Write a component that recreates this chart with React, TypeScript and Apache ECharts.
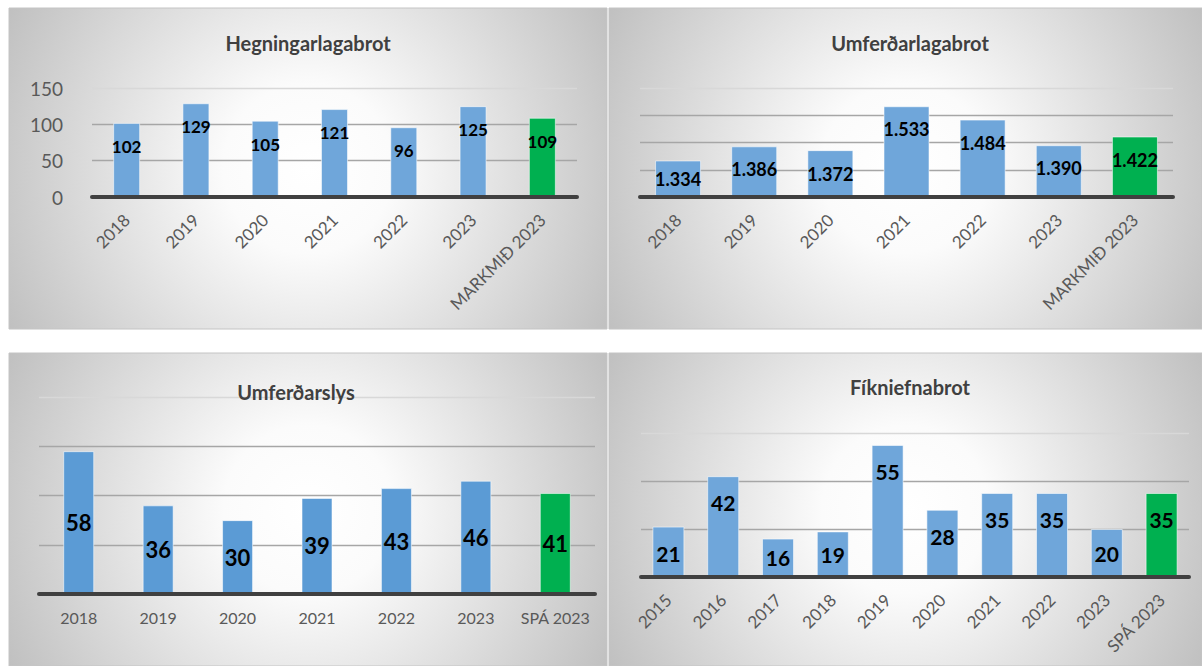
import React, { useEffect, useRef } from "react";
import * as echarts from "echarts";

// ---- Data ----
const crimeTitle = "Hegningarlagabrot";
const crimeCategories = ["2018", "2019", "2020", "2021", "2022", "2023", "MARKMIÐ 2023"];
const crimeValues = [102, 129, 105, 121, 96, 125, 109];
const crimeTicks = [0, 50, 100, 150];

const trafficTitle = "Umferðarlagabrot";
const trafficCategories = ["2018", "2019", "2020", "2021", "2022", "2023", "MARKMIÐ 2023"];
const trafficValues = [1334, 1386, 1372, 1533, 1484, 1390, 1422];

const accidentTitle = "Umferðarslys";
const accidentCategories = ["2018", "2019", "2020", "2021", "2022", "2023", "SPÁ 2023"];
const accidentValues = [58, 36, 30, 39, 43, 46, 41];

const drugTitle = "Fíkniefnabrot";
const drugCategories = ["2015", "2016", "2017", "2018", "2019", "2020", "2021", "2022", "2023", "SPÁ 2023"];
const drugValues = [21, 42, 16, 19, 55, 28, 35, 35, 20, 35];

const FONT = "Lato, 'Open Sans', sans-serif";
const GREEN = "#00b050";

function dotThousands(v: number): string {
  return String(v).replace(/\B(?=(\d{3})+(?!\d))/g, ".");
}

type Panel = {
  title: string;
  titleX: number;
  titleY: number;
  rect: { x: number; y: number; w: number; h: number };
  grid: { left: number; top: number; width: number; height: number };
  categories: string[];
  values: number[];
  min: number;
  max: number;
  interval: number;
  showYLabels: boolean;
  barWidth: number;
  color: string;
  labelSize: number;
  labelMode: "top" | "center";
  labelDistance: number;
  rotate: number;
  xFont: number;
  xMargin: number;
  thousands: boolean;
};

const panels: Panel[] = [
  {
    title: crimeTitle, titleX: 308, titleY: 43,
    rect: { x: 9, y: 8, w: 598, h: 321 },
    grid: { left: 92, top: 88, width: 485, height: 109 },
    categories: crimeCategories, values: crimeValues,
    min: crimeTicks[0], max: crimeTicks[crimeTicks.length - 1], interval: crimeTicks[1] - crimeTicks[0],
    showYLabels: true, barWidth: 27, color: "#6fa6da",
    labelSize: 17, labelMode: "top", labelDistance: 15,
    rotate: 45, xFont: 17, xMargin: 20, thousands: false,
  },
  {
    title: trafficTitle, titleX: 910, titleY: 43,
    rect: { x: 609, y: 8, w: 593, h: 321 },
    grid: { left: 640, top: 88, width: 533, height: 109 },
    categories: trafficCategories, values: trafficValues,
    min: 1200, max: 1600, interval: 100,
    showYLabels: false, barWidth: 46, color: "#6fa6da",
    labelSize: 18, labelMode: "top", labelDistance: 14,
    rotate: 45, xFont: 17, xMargin: 20, thousands: true,
  },
  {
    title: accidentTitle, titleX: 296, titleY: 392,
    rect: { x: 9, y: 353, w: 598, h: 313 },
    grid: { left: 39, top: 397, width: 556, height: 197 },
    categories: accidentCategories, values: accidentValues,
    min: 0, max: 80, interval: 20,
    showYLabels: false, barWidth: 31, color: "#5b9bd5",
    labelSize: 22, labelMode: "center", labelDistance: 0,
    rotate: 0, xFont: 16, xMargin: 15, thousands: false,
  },
  {
    title: drugTitle, titleX: 910, titleY: 387,
    rect: { x: 609, y: 353, w: 593, h: 313 },
    grid: { left: 641, top: 433, width: 548, height: 144 },
    categories: drugCategories, values: drugValues,
    min: 0, max: 60, interval: 20,
    showYLabels: false, barWidth: 32, color: "#6fa6da",
    labelSize: 21, labelMode: "top", labelDistance: 16,
    rotate: 45, xFont: 17, xMargin: 20, thousands: false,
  },
];

function buildOption() {
  const grids: any[] = [];
  const xAxes: any[] = [];
  const yAxes: any[] = [];
  const series: any[] = [];
  const graphics: any[] = [];

  panels.forEach((p, i) => {
    const cx = p.rect.x + p.rect.w / 2;
    const cy = p.rect.y + p.rect.h / 2;
    const r = Math.sqrt((p.rect.w / 2) ** 2 + (p.rect.h / 2) ** 2);
    graphics.push({
      type: "rect",
      z: -10,
      silent: true,
      shape: { x: p.rect.x, y: p.rect.y, width: p.rect.w, height: p.rect.h },
      style: {
        fill: new echarts.graphic.RadialGradient(cx, cy, r, [
          { offset: 0, color: "#ffffff" },
          { offset: 0.25, color: "#fbfbfb" },
          { offset: 1, color: "#c0c0c0" },
        ], true),
        stroke: "#c4c4c4",
        lineWidth: 1,
      },
    });
    graphics.push({
      type: "text",
      z: 50,
      x: p.titleX,
      y: p.titleY,
      style: {
        text: p.title,
        fontFamily: FONT,
        fontSize: 20,
        fontWeight: "bold",
        fill: "#404040",
        align: "center",
        verticalAlign: "middle",
      },
    });

    grids.push({ ...p.grid, outerBoundsMode: "none", containLabel: false });

    const nLines = Math.round((p.max - p.min) / p.interval) + 1;
    const lineColors = Array.from({ length: nLines }, (_, k) => (k === nLines - 1 ? "#d8d8d8" : "#a6a6a6"));

    xAxes.push({
      type: "category",
      gridIndex: i,
      data: p.categories,
      z: 5,
      axisLine: { lineStyle: { color: "#404040", width: 4 } },
      axisTick: { show: false },
      splitLine: { show: false },
      axisLabel: {
        interval: 0,
        rotate: p.rotate,
        fontSize: p.xFont,
        fontFamily: FONT,
        color: "#595959",
        margin: p.xMargin,
      },
    });
    yAxes.push({
      type: "value",
      gridIndex: i,
      min: p.min,
      max: p.max,
      interval: p.interval,
      axisLine: { show: false },
      axisTick: { show: false },
      axisLabel: {
        show: p.showYLabels,
        fontSize: 19,
        fontFamily: FONT,
        color: "#595959",
        margin: 29,
      },
      splitLine: { show: true, lineStyle: { color: lineColors, width: 1.3 } },
    });

    const last = p.values.length - 1;
    series.push({
      type: "bar",
      xAxisIndex: i,
      yAxisIndex: i,
      barWidth: p.barWidth,
      data: p.values.map((v, k) => {
        const px = ((v - p.min) / (p.max - p.min)) * p.grid.height;
        const useCenter = p.labelMode === "center" || px < 50;
        return {
          value: v,
          itemStyle: { color: k === last ? GREEN : p.color },
          label: useCenter
            ? { position: "inside" }
            : { position: "insideTop", distance: p.labelDistance },
        };
      }),
      itemStyle: { borderColor: "rgba(255,255,255,0.55)", borderWidth: 1 },
      label: {
        show: true,
        color: "#000000",
        fontFamily: FONT,
        fontWeight: "bold",
        fontSize: p.labelSize,
        formatter: (prm: any) => (p.thousands ? dotThousands(prm.value) : String(prm.value)),
      },
    });
  });

  return {
    animation: false,
    backgroundColor: "#ffffff",
    grid: grids,
    xAxis: xAxes,
    yAxis: yAxes,
    series,
    graphic: { elements: graphics },
  };
}

export default function App() {
  const ref = useRef<HTMLDivElement | null>(null);
  useEffect(() => {
    if (!ref.current) return;
    const chart = echarts.init(ref.current, undefined, { renderer: "svg" });
    chart.setOption(buildOption() as any);
    return () => chart.dispose();
  }, []);
  return (
    <div
      ref={ref}
      style={{ position: "absolute", left: 0, top: 0, width: 1202, height: 666 }}
    />
  );
}
